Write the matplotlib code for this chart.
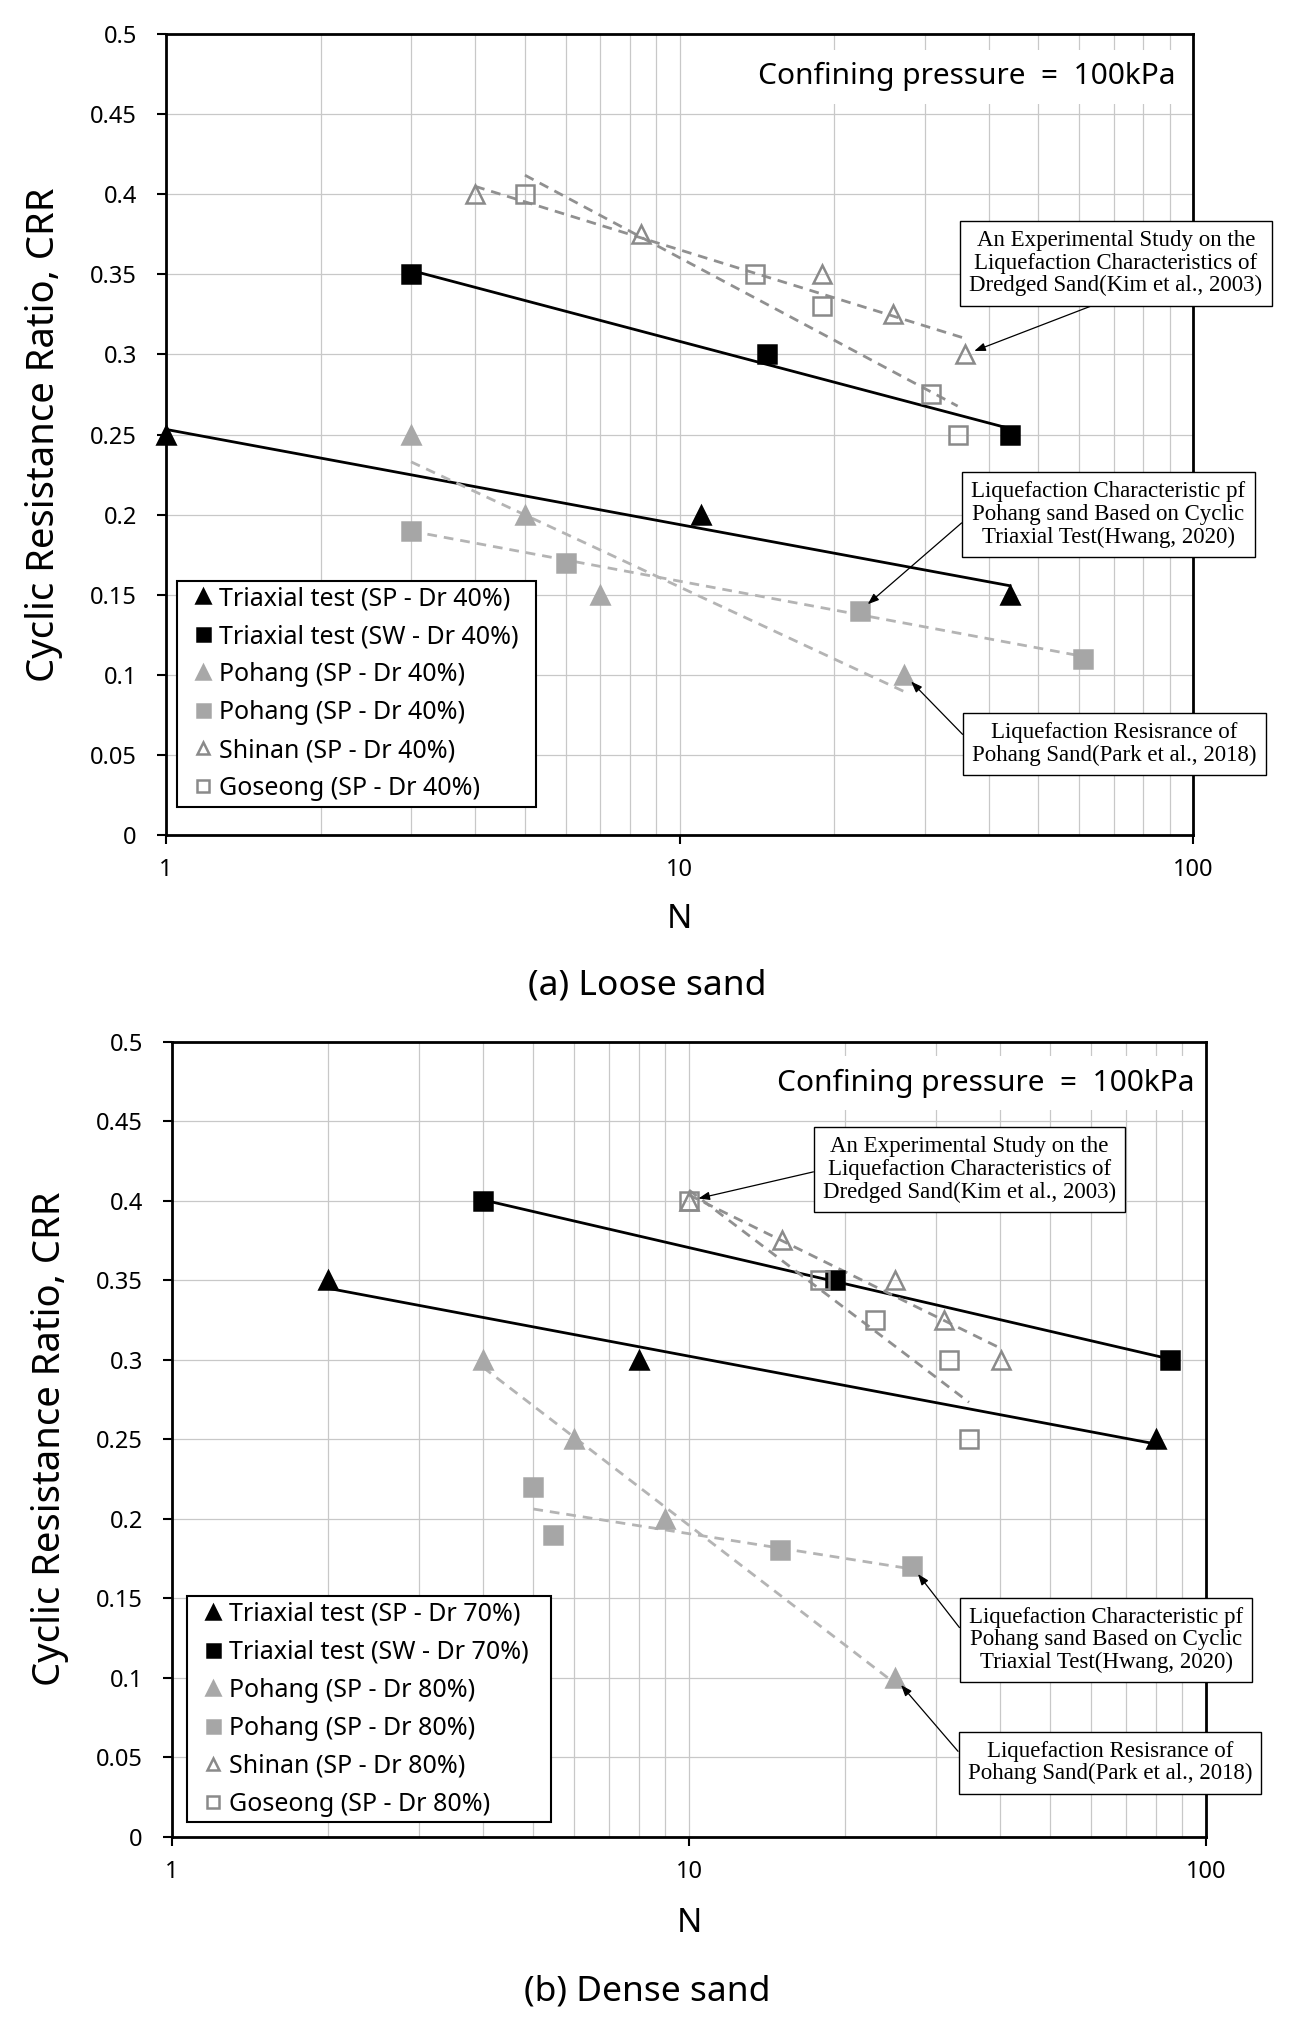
import numpy as np
import matplotlib.pyplot as plt
from matplotlib.ticker import FixedLocator, FuncFormatter, NullFormatter

plt.rcParams['font.family'] = ['Noto Sans', 'DejaVu Sans']

# ===== data =====

# (a) loose sand
loose_tri_sp_n = [1, 11, 44]
loose_tri_sp_crr = [0.25, 0.2, 0.15]
loose_tri_sw_n = [3, 14.8, 44]
loose_tri_sw_crr = [0.35, 0.3, 0.25]
loose_pohang_tri_n = [3, 5, 7, 27.4]
loose_pohang_tri_crr = [0.25, 0.2, 0.15, 0.1]
loose_pohang_sq_n = [3, 6, 22.5, 61]
loose_pohang_sq_crr = [0.19, 0.17, 0.14, 0.11]
loose_shinan_n = [4, 8.4, 18.9, 26, 36]
loose_shinan_crr = [0.4, 0.375, 0.35, 0.325, 0.3]
loose_goseong_n = [5, 14, 18.9, 30.9, 34.8]
loose_goseong_crr = [0.4, 0.35, 0.33, 0.275, 0.25]
loose_labels = ['Triaxial test (SP - Dr 40%)', 'Triaxial test (SW - Dr 40%)',
                'Pohang (SP - Dr 40%)', 'Pohang (SP - Dr 40%)',
                'Shinan (SP - Dr 40%)', 'Goseong (SP - Dr 40%)']

# (b) dense sand
dense_tri_sp_n = [2, 8, 80]
dense_tri_sp_crr = [0.35, 0.3, 0.25]
dense_tri_sw_n = [4, 19.2, 85]
dense_tri_sw_crr = [0.4, 0.35, 0.3]
dense_pohang_tri_n = [4, 6, 9, 25]
dense_pohang_tri_crr = [0.3, 0.25, 0.2, 0.1]
dense_pohang_sq_n = [5, 5.45, 15, 27]
dense_pohang_sq_crr = [0.22, 0.19, 0.18, 0.17]
dense_shinan_n = [10, 15.1, 25, 31.1, 40.2]
dense_shinan_crr = [0.4, 0.375, 0.35, 0.325, 0.3]
dense_goseong_n = [10, 17.9, 22.9, 31.8, 34.8]
dense_goseong_crr = [0.4, 0.35, 0.325, 0.3, 0.25]
dense_labels = ['Triaxial test (SP - Dr 70%)', 'Triaxial test (SW - Dr 70%)',
                'Pohang (SP - Dr 80%)', 'Pohang (SP - Dr 80%)',
                'Shinan (SP - Dr 80%)', 'Goseong (SP - Dr 80%)']

note_kim = 'An Experimental Study on the\nLiquefaction Characteristics of\nDredged Sand(Kim et al., 2003)'
note_hwang = 'Liquefaction Characteristic pf\nPohang sand Based on Cyclic\nTriaxial Test(Hwang, 2020)'
note_park = 'Liquefaction Resisrance of\nPohang Sand(Park et al., 2018)'

y_ticks = [0, 0.05, 0.1, 0.15, 0.2, 0.25, 0.3, 0.35, 0.4, 0.45, 0.5]
x_ticks = [1, 10, 100]

# ===== styles =====
styles = [
    dict(marker='^', face='black', edge='black', line='black', dash=False, ms=13.5),
    dict(marker='s', face='black', edge='black', line='black', dash=False, ms=13),
    dict(marker='^', face='#a8a8a8', edge='#a8a8a8', line='#b4b4b4', dash=True, ms=13.5),
    dict(marker='s', face='#a6a6a6', edge='#a6a6a6', line='#b4b4b4', dash=True, ms=13),
    dict(marker='^', face='none', edge='#8a8a8a', line='#909090', dash=True, ms=12.5),
    dict(marker='s', face='none', edge='#8a8a8a', line='#909090', dash=True, ms=12.5),
]


def draw_panel(ax, series, labels, notes, leg_box, press_pos):
    ax.set_xscale('log')
    ax.set_xlim(1, 100)
    ax.set_ylim(0, 0.5)
    ax.yaxis.set_major_locator(FixedLocator(y_ticks))
    ax.yaxis.set_major_formatter(FuncFormatter(lambda v, p: '%g' % round(v, 3)))
    ax.xaxis.set_major_locator(FixedLocator(x_ticks))
    ax.xaxis.set_major_formatter(FuncFormatter(lambda v, p: '%g' % v))
    ax.xaxis.set_minor_locator(FixedLocator([m * 10 ** e for e in (0, 1) for m in range(2, 10)]))
    ax.xaxis.set_minor_formatter(NullFormatter())
    ax.grid(which='both', color='#c8c8c8', lw=0.9)
    ax.set_axisbelow(True)
    ax.tick_params(which='major', length=6.5, width=1.5, labelsize=17)
    ax.tick_params(axis='x', which='minor', length=0)
    ax.tick_params(axis='x', pad=10.5)
    ax.tick_params(axis='y', pad=14.5)
    for sp in ax.spines.values():
        sp.set_linewidth(2)
        sp.set_color('black')

    for (n, crr), st, lab in zip(series, styles, labels):
        n = np.array(n, dtype=float)
        crr = np.array(crr, dtype=float)
        # excel style log trendline
        k, b = np.polyfit(np.log(n), crr, 1)
        nn = np.array([n.min(), n.max()])
        ln, = ax.plot(nn, k * np.log(nn) + b, color=st['line'], lw=2, zorder=3)
        if st['dash']:
            ln.set_dashes((3.5, 2.5))
        ax.plot(n, crr, ls='none', marker=st['marker'], ms=st['ms'],
                mfc=st['face'], mec=st['edge'], mew=1.8, label=lab,
                clip_on=False, zorder=4)

    leg = ax.legend(loc='lower left', bbox_to_anchor=leg_box, mode='expand',
                    borderaxespad=0, fancybox=False, edgecolor='black',
                    framealpha=1, fontsize=18, markerscale=0.72,
                    handlelength=1.6, handletextpad=-0.15,
                    labelspacing=0.52, borderpad=0.22, numpoints=1)
    leg.get_frame().set_linewidth(1.5)
    leg.set_zorder(6)

    for text, si, pi, box_xy, rel in notes:
        target = (series[si][0][pi], series[si][1][pi])
        ax.annotate(text, xy=target, xytext=box_xy, ha='center', va='center',
                    family='Liberation Serif', fontsize=16.5, linespacing=1.1,
                    annotation_clip=False, zorder=7,
                    bbox=dict(boxstyle='square,pad=0.4', fc='white', ec='black', lw=1),
                    arrowprops=dict(arrowstyle='-|>,head_length=0.4,head_width=0.15',
                                    color='black', lw=0.9, shrinkA=0, shrinkB=7,
                                    relpos=rel))

    ax.text(press_pos[0], press_pos[1], 'Confining pressure  =  100kPa',
            transform=ax.transAxes, ha='right', va='center', fontsize=21.5,
            bbox=dict(fc='white', ec='none', pad=9), zorder=2.5)

    ax.set_xlabel('N', fontsize=24)
    ax.set_ylabel('Cyclic Resistance Ratio, CRR', fontsize=27.5)
    ax.yaxis.set_label_coords(-0.10, 0.5)


fig = plt.figure(figsize=(12.94, 20.21), dpi=100)

ax_a = fig.add_axes([0.1283, 0.5870, 0.7937, 0.3960])
loose_series = [(loose_tri_sp_n, loose_tri_sp_crr), (loose_tri_sw_n, loose_tri_sw_crr),
                (loose_pohang_tri_n, loose_pohang_tri_crr), (loose_pohang_sq_n, loose_pohang_sq_crr),
                (loose_shinan_n, loose_shinan_crr), (loose_goseong_n, loose_goseong_crr)]
loose_notes = [(note_kim, 4, 4, (70.8, 0.357), (0.5, 0)),
               (note_hwang, 3, 2, (68.4, 0.200), (0, 0.5)),
               (note_park, 2, 3, (70.3, 0.0565), (0, 0.5))]
draw_panel(ax_a, loose_series, loose_labels, loose_notes,
           (0.011, 0.035, 0.349, 0.276), (0.983, 0.947))
ax_a.xaxis.set_label_coords(0.5, -0.085)

ax_b = fig.add_axes([0.1329, 0.0912, 0.7991, 0.3934])
dense_series = [(dense_tri_sp_n, dense_tri_sp_crr), (dense_tri_sw_n, dense_tri_sw_crr),
                (dense_pohang_tri_n, dense_pohang_tri_crr), (dense_pohang_sq_n, dense_pohang_sq_crr),
                (dense_shinan_n, dense_shinan_crr), (dense_goseong_n, dense_goseong_crr)]
dense_notes = [(note_kim, 4, 0, (34.9, 0.4195), (0, 0.5)),
               (note_hwang, 3, 3, (64.1, 0.1237), (0, 0.5)),
               (note_park, 2, 3, (65.2, 0.0466), (0, 0.5))]
draw_panel(ax_b, dense_series, dense_labels, dense_notes,
           (0.015, 0.018, 0.352, 0.285), (0.989, 0.948))
ax_b.xaxis.set_label_coords(0.5, -0.088)

fig.text(0.5, 0.5126, '(a) Loose sand', ha='center', va='center', fontsize=25.5)
fig.text(0.5, 0.0148, '(b) Dense sand', ha='center', va='center', fontsize=25.5)

fig.savefig('out.png', dpi=100, facecolor='white')
